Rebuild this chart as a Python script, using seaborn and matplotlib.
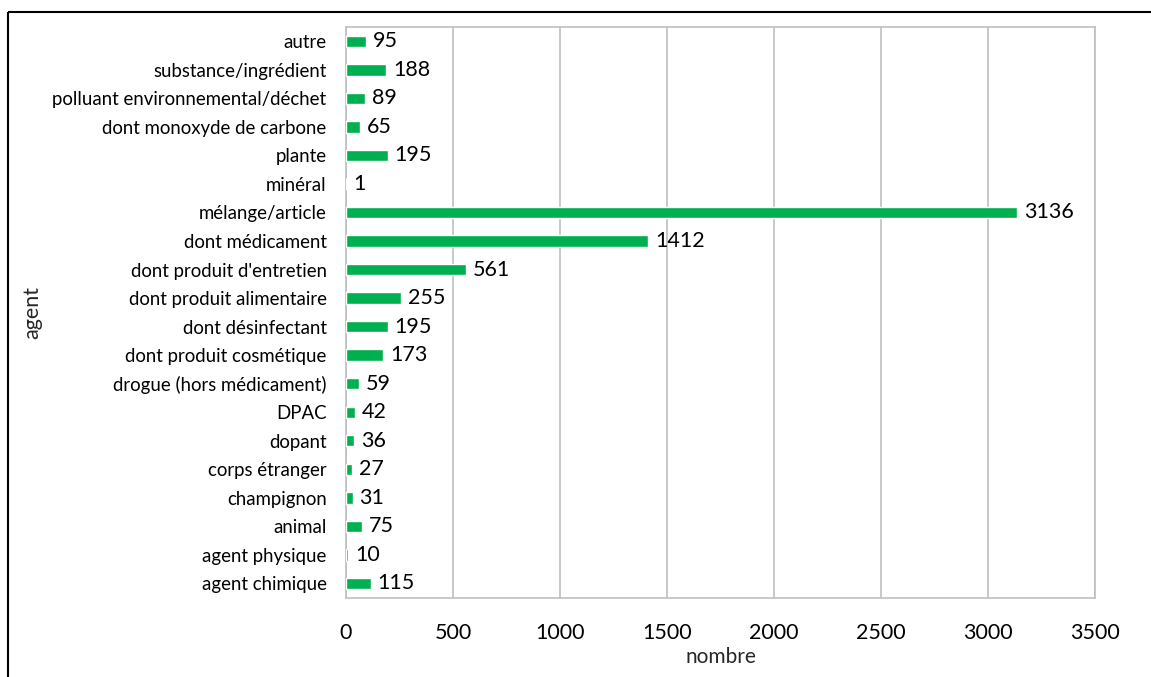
import matplotlib
matplotlib.use("Agg")
import matplotlib.pyplot as plt
import seaborn as sns
import pandas as pd
from matplotlib.lines import Line2D

# categories from top to bottom as they appear on the chart
agents = [
    "autre", "substance/ingrédient", "polluant environnemental/déchet",
    "dont monoxyde de carbone", "plante", "minéral", "mélange/article",
    "dont médicament", "dont produit d'entretien", "dont produit alimentaire",
    "dont désinfectant", "dont produit cosmétique", "drogue (hors médicament)",
    "DPAC", "dopant", "corps étranger", "champignon", "animal",
    "agent physique", "agent chimique",
]
nombres = [95, 188, 89, 65, 195, 1, 3136, 1412, 561, 255,
           195, 173, 59, 42, 36, 27, 31, 75, 10, 115]
x_ticks = [0, 500, 1000, 1500, 2000, 2500, 3000, 3500]

df = pd.DataFrame({"agent": agents, "nombre": nombres})

sns.set_theme(style="white")
plt.rcParams["font.family"] = ["Lato", "DejaVu Sans"]

fig = plt.figure(figsize=(11.51, 6.77), dpi=100)
ax = fig.add_axes([0.3006, 0.1171, 0.6507, 0.843])

sns.barplot(data=df, x="nombre", y="agent", order=agents, color="#00B050",
            width=0.40, saturation=1, ax=ax, zorder=3)

for c in ax.containers:
    ax.bar_label(c, labels=[str(v) for v in nombres], padding=5,
                 fontsize=15.5, color="#000000")

ax.set_xlim(0, 3500)
ax.set_xticks(x_ticks)
ax.xaxis.grid(True, color="#BFBFBF", linewidth=1.2, zorder=0)
ax.yaxis.grid(False)
for s in ax.spines.values():
    s.set_color("#BFBFBF")
    s.set_linewidth(1.2)

ax.tick_params(axis="y", length=0, pad=14, labelsize=13.4, labelcolor="#000000")
ax.tick_params(axis="x", length=0, pad=18, labelsize=15.5, labelcolor="#000000")
ax.set_xlabel("nombre", fontsize=15, labelpad=3)
ax.set_ylabel("agent", fontsize=15.5, labelpad=7)

# outer frame of the chart (only left and top edges show in the reference)
x0 = 8 / 1151
y0 = 1 - 12 / 677
fig.add_artist(Line2D([x0, x0], [0, y0], transform=fig.transFigure,
                      color="#000000", linewidth=1.5, solid_capstyle="butt"))
fig.add_artist(Line2D([x0, 1], [y0, y0], transform=fig.transFigure,
                      color="#000000", linewidth=1.5, solid_capstyle="butt"))

fig.savefig("out.png", dpi=100)
